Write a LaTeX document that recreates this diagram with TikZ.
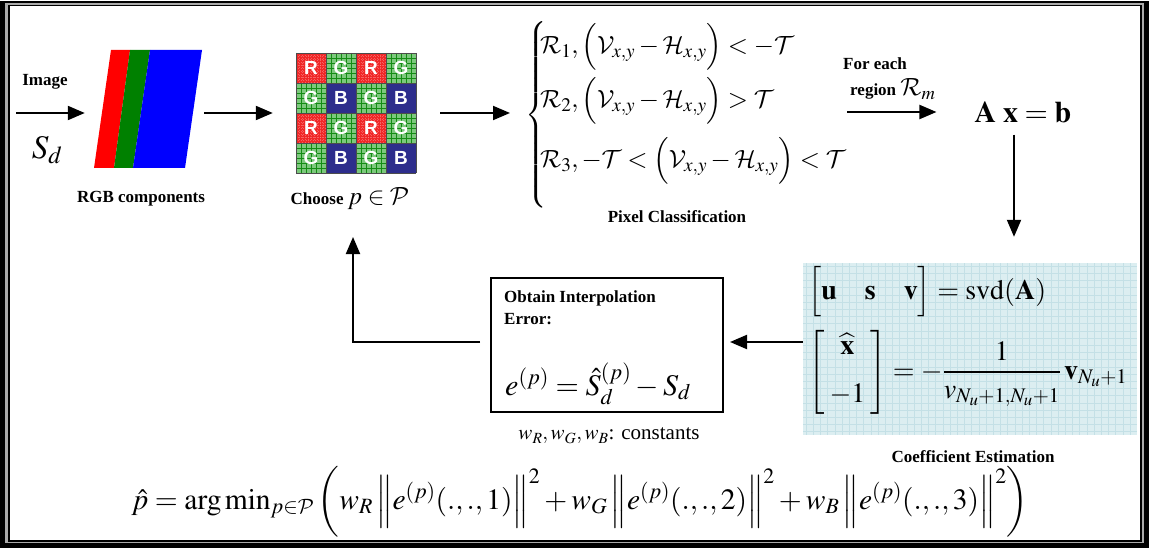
\documentclass[tikz,border=0pt]{standalone}
\usepackage{amsmath}
\usepackage{mathptmx}
\usepackage[no-math]{fontspec}
\setmainfont{Liberation Serif}
\newfontfamily\sansfam{Liberation Sans}
\DeclareMathAlphabet{\mathcal}{OMS}{cmsy}{m}{n}
\usetikzlibrary{arrows.meta,calc}
\definecolor{rgbred}{RGB}{255,0,0}
\definecolor{rgbgreen}{RGB}{0,128,0}
\definecolor{rgbblue}{RGB}{0,0,255}
\definecolor{bred}{RGB}{240,40,40}
\definecolor{bredl}{RGB}{255,170,170}
\definecolor{bgreen}{RGB}{125,200,125}
\definecolor{bgreend}{RGB}{20,140,20}
\definecolor{bblue}{RGB}{45,45,140}
\definecolor{coefbg}{RGB}{220,238,241}
\definecolor{coefgrid}{RGB}{196,224,230}
\definecolor{framegray}{RGB}{170,170,170}
\tikzset{
  arr/.style={line width=2pt,-{Triangle[length=17pt,width=14pt]}},
  lbl/.style={font=\fontsize{17}{20}\selectfont\bfseries,inner sep=0pt},
  mth/.style={inner sep=0pt},
  cellletter/.style={text=white,font=\sansfam\bfseries\fontsize{19}{19}\selectfont,inner sep=0pt},
}
\newcommand{\parstrut}{\vrule height 19pt depth 12pt width 0pt}
\newcommand{\normstrut}{\vrule height 24pt depth 10pt width 0pt}
\begin{document}
\begin{tikzpicture}[x=1pt,y=-1pt]
\useasboundingbox (0,0) rectangle (1156,548);
% frame
\fill[black] (0,1) rectangle (1148.5,548);
\fill[framegray] (5,3.5) rectangle (1143.5,543);
\fill[black] (7.5,5) rectangle (1141.5,541.5);
\fill[white] (9.5,6.5) rectangle (1139.5,539.5);

% RGB components
\fill[rgbred] (111,50) -- (130,50) -- (114,168) -- (94,168) -- cycle;
\fill[rgbgreen] (130,50) -- (150,50) -- (133,168) -- (114,168) -- cycle;
\fill[rgbblue] (150,50) -- (202,50) -- (185,168) -- (133,168) -- cycle;
\node[inner sep=0pt,minimum width=108pt,minimum height=118pt] (rgb) at (148,109) {};
\node[lbl] (image) at (45,82) {Image};
\node[mth,font=\fontsize{33}{36}\selectfont] (sd) at (47,150) {$S_d$};
\node[lbl] (rgblbl) at (141,199) {RGB components};

% Bayer grid
\foreach \r in {0,1,2,3}{
  \foreach \c in {0,1,2,3}{
    \pgfmathtruncatemacro{\rr}{mod(\r,2)}
    \pgfmathtruncatemacro{\cc}{mod(\c,2)}
    \pgfmathsetmacro{\xa}{296+30*\c}
    \pgfmathsetmacro{\ya}{53+30*\r}
    \ifnum\rr=0
      \ifnum\cc=0
        \fill[bred] (\xa,\ya) rectangle ++(30,30);
        \foreach \k in {3,6,...,28}{
          \draw[bredl,line width=0.4pt,dotted,opacity=0.45] (\xa+\k,\ya) -- ++(0,30);
          \draw[bredl,line width=0.4pt,dotted,opacity=0.45] (\xa,\ya+\k) -- ++(30,0);
        }
        \node[cellletter] at (\xa+15,\ya+15) {R};
      \else
        \fill[bgreen] (\xa,\ya) rectangle ++(30,30);
        \foreach \k in {5,10,...,25}{
          \draw[bgreend,line width=0.5pt] (\xa+\k,\ya) -- ++(0,30);
          \draw[bgreend,line width=0.5pt] (\xa,\ya+\k) -- ++(30,0);
        }
        \node[cellletter] at (\xa+15,\ya+15) {G};
      \fi
    \else
      \ifnum\cc=0
        \fill[bgreen] (\xa,\ya) rectangle ++(30,30);
        \foreach \k in {5,10,...,25}{
          \draw[bgreend,line width=0.5pt] (\xa+\k,\ya) -- ++(0,30);
          \draw[bgreend,line width=0.5pt] (\xa,\ya+\k) -- ++(30,0);
        }
        \node[cellletter] at (\xa+15,\ya+15) {G};
      \else
        \fill[bblue] (\xa,\ya) rectangle ++(30,30);
        \node[cellletter] at (\xa+15,\ya+15) {B};
      \fi
    \fi
  }
}
\foreach \k in {0,30,60,90,120}{
  \draw[black!70,line width=0.8pt] (296+\k,53) -- (296+\k,173);
  \draw[black!70,line width=0.8pt] (296,53+\k) -- (416,53+\k);
}
\node[inner sep=0pt,minimum size=120pt] (bayer) at (356,113) {};
\node[inner sep=0pt,font=\fontsize{17}{20}\selectfont] (choose) at (350,199) {\textbf{Choose} \fontsize{25}{25}\selectfont$p\in\mathcal{P}$};

% Pixel classification
\node[mth,anchor=west,font=\fontsize{24}{28}\selectfont] (cls) at (525,116) {$\left\{\vrule height 90pt depth 90pt width 0pt\right.$};
\node[mth,anchor=west,font=\fontsize{26}{30}\selectfont] (r1) at (540,47) {$\mathcal{R}_1,\left(\parstrut\mathcal{V}_{x,y}-\mathcal{H}_{x,y}\right)<-\mathcal{T}$};
\node[mth,anchor=west,font=\fontsize{26}{30}\selectfont] (r2) at (540,101) {$\mathcal{R}_2,\left(\parstrut\mathcal{V}_{x,y}-\mathcal{H}_{x,y}\right)>\mathcal{T}$};
\node[mth,anchor=west,font=\fontsize{26}{30}\selectfont] (r3) at (540,161) {$\mathcal{R}_3,-\mathcal{T}<\left(\parstrut\mathcal{V}_{x,y}-\mathcal{H}_{x,y}\right)<\mathcal{T}$};
\node[lbl] (pc) at (677,217) {Pixel Classification};

% For each region
\node[lbl] (fe1) at (875,64) {For each};
\node[inner sep=0pt,font=\fontsize{17}{20}\selectfont,anchor=west] (fe2) at (850,89) {\textbf{region} \fontsize{25}{25}\selectfont$\mathcal{R}_m$};
\node[mth,font=\fontsize{30}{34}\selectfont] (axb) at (1023,112) {$\mathbf{A}\;\mathbf{x}=\mathbf{b}$};

% Coefficient estimation box
\fill[coefbg] (803,263) rectangle (1137,435);
\foreach \x in {806,813.2,...,1137}{\draw[coefgrid,line width=0.5pt] (\x,263) -- (\x,435);}
\foreach \y in {266,273.2,...,435}{\draw[coefgrid,line width=0.5pt] (803,\y) -- (1137,\y);}
\node[inner sep=0pt,minimum width=334pt,minimum height=172pt] (coef) at (970,349) {};
\node[mth,anchor=west,font=\fontsize{28}{32}\selectfont] (svd) at (808,292) {$\left[\vrule height 22pt depth 13pt width 0pt\mathbf{u}\quad\mathbf{s}\quad\mathbf{v}\right]=\mathrm{svd}(\mathbf{A})$};
\node[mth,anchor=west,font=\fontsize{28}{32}\selectfont] (xhat) at (808,372) {$\left[\begin{array}{c}\widehat{\mathbf{x}}\\[16pt]-1\end{array}\right]=-\dfrac{1}{v_{N_u+1,N_u+1}}\,\mathbf{v}_{N_u+1}$};
\node[lbl] (ce) at (973,457) {Coefficient Estimation};

% Interpolation error box
\node[draw,line width=2pt,minimum width=232pt,minimum height=134pt,inner sep=0pt] (err) at (607,345) {};
\node[lbl,anchor=north west,align=left,font=\fontsize{17}{22}\selectfont\bfseries] (errtxt) at (504,291) {Obtain Interpolation\\Error:};
\node[mth,anchor=base west,font=\fontsize{30}{34}\selectfont] (errf) at (505,395) {$e^{(p)}=\hat{S}_d^{(p)}-S_d$};
\node[mth,font=\fontsize{21}{24}\selectfont] (wc) at (609,436) {$w_R,w_G,w_B$\rmfamily: constants};

% Final formula
\node[mth,font=\fontsize{29.5}{34}\selectfont] (pm) at (580,502) {$\hat{p}=\arg\min\nolimits_{p\in\mathcal{P}}\left(\vrule height 29pt depth 24pt width 0pt w_R\left\|\normstrut e^{(p)}(.,.,1)\right\|^2+w_G\left\|\normstrut e^{(p)}(.,.,2)\right\|^2+w_B\left\|\normstrut e^{(p)}(.,.,3)\right\|^2\right)$};

% connectors
\coordinate (imgin) at (16,113);
\coordinate (ay) at (0,342);
\coordinate (dx) at (1014,0);
\coordinate (fein) at (847,112);
\coordinate (ret) at (353,237);
\draw[arr,shorten >=9pt] (imgin) -- (imgin -| rgb.west);
\draw[arr,shorten <=2pt,shorten >=23pt] (imgin -| rgb.east) -- (imgin -| bayer.west);
\draw[arr,shorten <=24pt,shorten >=15pt] (imgin -| bayer.east) -- (imgin -| cls.west);
\draw[arr,shorten >=38pt] (fein) -- (fein -| axb.west);
\draw[arr,shorten <=12pt,shorten >=26pt] (axb.south -| dx) -- (coef.north -| dx);
\draw[arr,shorten >=6pt] (coef.west |- ay) -- (err.east |- ay);
\draw[arr] ([xshift=-10pt]err.west |- ay) -| (ret);
\end{tikzpicture}
\end{document}
